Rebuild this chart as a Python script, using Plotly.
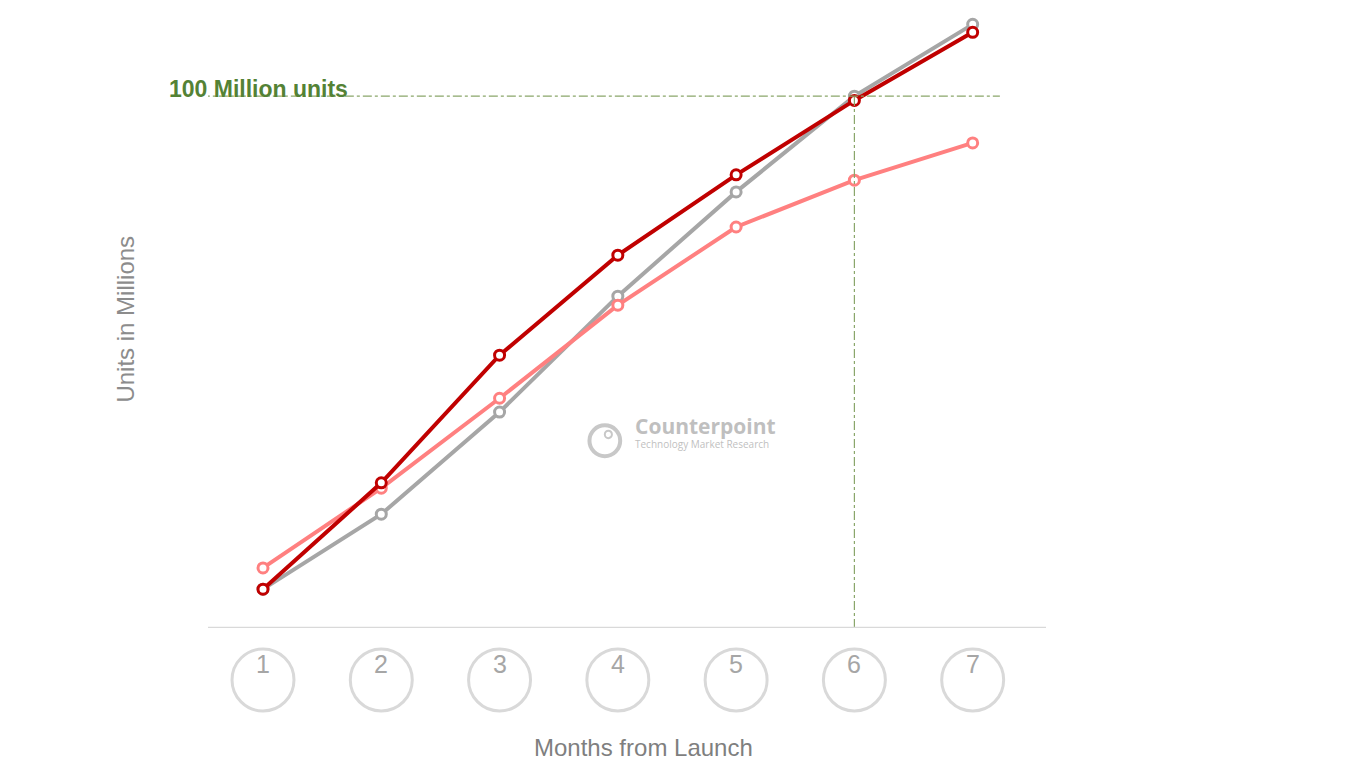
import plotly.graph_objects as go

months = [1, 2, 3, 4, 5, 6, 7]
gray_vals = [7.3, 21.4, 40.6, 62.4, 82.0, 100.0, 113.5]
pink_vals = [11.3, 26.3, 43.2, 60.7, 75.4, 84.2, 91.2]
red_vals = [7.3, 27.3, 51.3, 70.1, 85.2, 99.2, 112.0]
tick_labels = ["1", "2", "3", "4", "5", "6", "7"]
milestone = 100

fig = go.Figure()
for vals, col in [(gray_vals, "#a6a6a6"), (pink_vals, "#ff8080"), (red_vals, "#c00000")]:
    fig.add_trace(go.Scatter(x=months, y=vals, mode="lines+markers",
                             line=dict(color=col, width=4),
                             marker=dict(size=10, color="white", line=dict(color=col, width=3)),
                             showlegend=False, cliponaxis=False))

# circled tick labels
for m, lab in zip(months, tick_labels):
    fig.add_shape(type="circle", xref="x", yref="paper", x0=m - 0.262, x1=m + 0.262,
                  y0=-0.0841 - 0.0502, y1=-0.0841 + 0.0502, line=dict(color="#d9d9d9", width=3))
    fig.add_annotation(x=m, y=-0.0841, yref="paper", text=lab, showarrow=False,
                       font=dict(size=25, color="#a6a6a6", family="Liberation Sans"))

fig.add_shape(type="line", x0=0.17, x1=7.23, y0=milestone, y1=milestone,
              line=dict(color="#8aa66a", width=1.2, dash="dashdot"))
fig.add_shape(type="line", x0=6, x1=6, y0=0, y1=milestone,
              line=dict(color="#8aa66a", width=1.2, dash="dashdot"))

fig.add_annotation(x=-0.049, xref="paper", y=0.896, yref="paper", xanchor="left",
                   text="<b>100 Million units</b>", showarrow=False,
                   font=dict(size=23, color="#548235", family="Liberation Sans"))
fig.add_annotation(x=-0.118, xref="paper", y=0.5, yref="paper", text="Units in Millions", textangle=-90,
                   showarrow=False, font=dict(size=24, color="#8c8c8c", family="Liberation Sans"))
fig.add_annotation(x=0.52, xref="paper", y=-0.194, yref="paper", yanchor="middle",
                   text="Months from Launch", showarrow=False,
                   font=dict(size=24, color="#7f7f7f", family="Liberation Sans"))
# watermark
fig.add_annotation(x=4.128, y=37.9, text="<b>Counterpoint</b>", xanchor="left", showarrow=False,
                   font=dict(size=21, color="#bfbfbf", family="Open Sans"))
fig.add_annotation(x=4.128, y=34.6, text="Technology Market Research", xanchor="left", showarrow=False,
                   font=dict(size=10, color="#bfbfbf", family="Open Sans"))
fig.add_shape(type="circle", x0=3.89 - 0.13, x1=3.89 + 0.13, y0=35.2 - 2.9, y1=35.2 + 2.9,
              line=dict(color="#c8c8c8", width=4))
fig.add_shape(type="circle", x0=3.92 - 0.03, x1=3.92 + 0.03, y0=36.4 - 0.7, y1=36.4 + 0.7,
              line=dict(color="#c8c8c8", width=2))

fig.update_layout(width=1349, height=781, plot_bgcolor="white", paper_bgcolor="white",
                  margin=dict(l=200, r=311, t=2, b=161),
                  xaxis=dict(range=[0.535, 7.62], showgrid=False, showticklabels=False, zeroline=False,
                             showline=False, ticks=""),
                  yaxis=dict(range=[0, 116.2], showgrid=False, showticklabels=False, zeroline=False,
                             showline=False, ticks=""))
fig.add_shape(type="line", xref="paper", x0=0, x1=1, y0=0, y1=0, line=dict(color="#d9d9d9", width=2.5))
fig.write_html("out.html")
